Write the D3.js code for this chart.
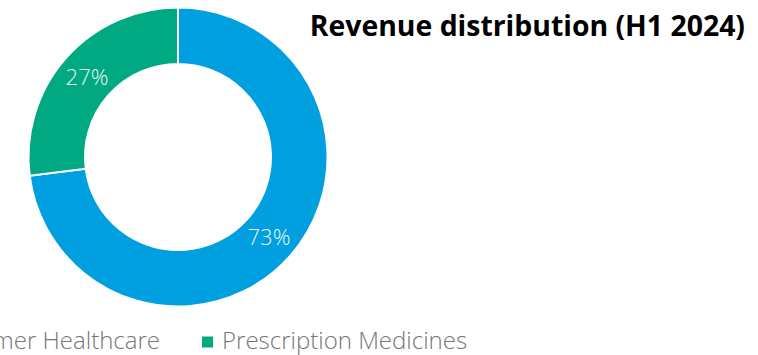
<!DOCTYPE html>
<html>
<head>
<meta charset="utf-8">
<script src="https://cdn.jsdelivr.net/npm/d3@7"></script>
<style>
  body { margin: 0; background: #fff; }
  svg { display: block; font-family: "Open Sans", sans-serif; }
</style>
</head>
<body>
<svg id="chart" width="758" height="355"></svg>
<script>
const segments = ['Consumer Healthcare', 'Prescription Medicines'];
const shares = [73, 27];
const colors = ['#009fe0', '#00a981'];
const title = 'Revenue distribution (H1 2024)';

const svg = d3.select('#chart');
const cx = 178, cy = 157;
const outerR = 149.5, innerR = 93;

const color = d3.scaleOrdinal().domain(segments).range(colors);

// blue starts at 12 o'clock going clockwise, green fills the rest
const pie = d3.pie().sort(null).value(d => d.value);
const arcs = pie(segments.map((s, i) => ({ name: s, value: shares[i] })));
const arc = d3.arc().innerRadius(innerR).outerRadius(outerR);

const g = svg.append('g').attr('transform', `translate(${cx},${cy})`);

g.selectAll('path')
  .data(arcs)
  .join('path')
  .attr('d', arc)
  .attr('fill', d => color(d.data.name))
  .attr('stroke', '#fff')
  .attr('stroke-width', 2);

g.selectAll('text.lbl')
  .data(arcs)
  .join('text')
  .attr('class', 'lbl')
  .attr('transform', d => `translate(${arc.centroid(d)})`)
  .attr('text-anchor', 'middle')
  .attr('dy', '0.36em')
  .attr('fill', '#e8f6f0')
  .style('font-size', '22px')
  .style('font-weight', 300)
  .text(d => d.data.value + '%');

svg.append('text')
  .attr('x', 745)
  .attr('y', 36)
  .attr('text-anchor', 'end')
  .attr('fill', '#000')
  .style('font-size', '28.4px')
  .style('font-weight', 700)
  .text(title);

// legend, first item runs off the left edge as in the source
const legend = svg.append('g');
const sq = 11, legY = 340.5;
const second = legend.append('g').attr('transform', 'translate(202,0)');
second.append('rect').attr('y', legY - 4).attr('width', sq).attr('height', sq).attr('fill', color(segments[1]));
second.append('text').attr('x', 20).attr('y', legY).attr('dy', '0.35em')
  .attr('fill', '#767676').style('font-size', '24px').style('font-weight', 300)
  .text(segments[1]);

const first = legend.append('g');
const t1 = first.append('text').attr('y', legY).attr('dy', '0.35em')
  .attr('fill', '#767676').style('font-size', '24px').style('font-weight', 300)
  .text(segments[0]);
const w1 = t1.node().getComputedTextLength();
const x1 = 202 - 42 - w1;
t1.attr('x', x1);
first.append('rect').attr('x', x1 - 20).attr('y', legY - 4).attr('width', sq).attr('height', sq).attr('fill', color(segments[0]));
</script>
</body>
</html>
